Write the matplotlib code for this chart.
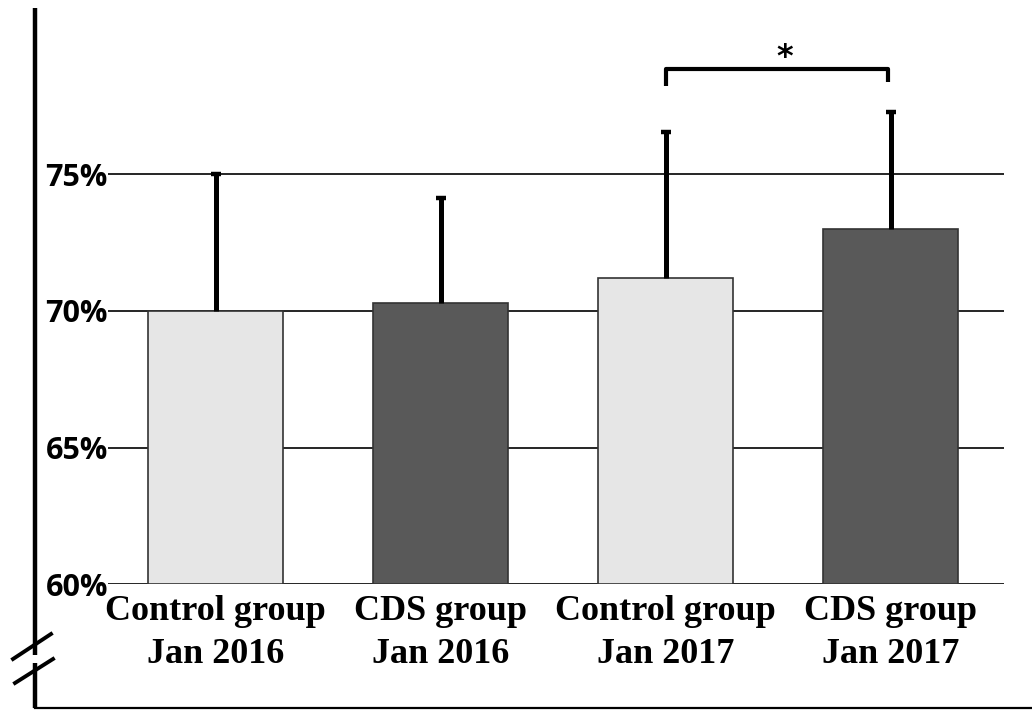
import numpy as np
import matplotlib
matplotlib.use("Agg")
import matplotlib.pyplot as plt

# data (percent)
groups = ["Control group\nJan 2016", "CDS group\nJan 2016",
          "Control group\nJan 2017", "CDS group\nJan 2017"]
means = [70.0, 70.3, 71.2, 73.0]
err_up = [5.0, 3.85, 5.35, 4.3]
colors = ["#e6e6e6", "#595959", "#e6e6e6", "#595959"]
yticks = [60, 65, 70, 75]
ytick_labels = ["60%", "65%", "70%", "75%"]

W, H = 1032, 711
fig = plt.figure(figsize=(W / 100, H / 100), dpi=100)

# plot area in pixels
left, right, bottom, top = 108, 1004, 584, 8
px_per_unit = 136.5 / 5
ax = fig.add_axes([left / W, (H - bottom) / H, (right - left) / W, (bottom - top) / H])
ax.set_ylim(60, 60 + (bottom - top) / px_per_unit)
x = np.arange(len(groups))
x_left = -107.5 / 225
ax.set_xlim(x_left, x_left + (right - left) / 225)

for y in yticks:
    ax.axhline(y, color="black", lw=1.2, zorder=1)

ax.bar(x, [m - 60 for m in means], width=0.6, bottom=60, color=colors,
       edgecolor="#333333", linewidth=1.2, zorder=2)
eb = ax.errorbar(x, means, yerr=[np.zeros(len(means)), err_up], fmt="none",
                 ecolor="black", elinewidth=3.6, capsize=3.6, capthick=3.2, zorder=3)
# only the upper caps
eb[1][0].set_visible(False)

# significance bracket between the two Jan 2017 bars
b_top = 78.85
ax.plot([2, 2, 2.99, 2.99], [78.25, b_top, b_top, 78.38], color="black",
        lw=3, solid_capstyle="butt", zorder=3)
ax.text(2.53, b_top - 0.15, "*", ha="center", va="bottom", fontsize=23,
        fontweight="bold", family="DejaVu Sans")

for s in ax.spines.values():
    s.set_visible(False)
ax.set_yticks(yticks)
ax.set_yticklabels(ytick_labels, fontsize=22, fontweight="bold", family="Open Sans")
ax.tick_params(axis="y", length=0, pad=0)
ax.set_xticks(x)
ax.set_xticklabels(groups, fontsize=26, fontweight="bold",
                   family="Liberation Serif", linespacing=1.4)
ax.tick_params(axis="x", length=0, pad=8)

# outer frame with axis break marks
ov = fig.add_axes([0, 0, 1, 1], zorder=-1)
ov.set_xlim(0, W)
ov.set_ylim(H, 0)
ov.axis("off")
ov.plot([35, 35], [8, 655], color="black", lw=3.2, solid_capstyle="butt")
ov.plot([35, 35], [663, 708], color="black", lw=3.2, solid_capstyle="butt")
ov.plot([35, W], [708, 708], color="black", lw=1.6)
ov.plot([13, 51], [659, 634], color="black", lw=2.8)
ov.plot([15, 53], [683, 659], color="black", lw=2.8)

fig.savefig("out.png", dpi=100)
